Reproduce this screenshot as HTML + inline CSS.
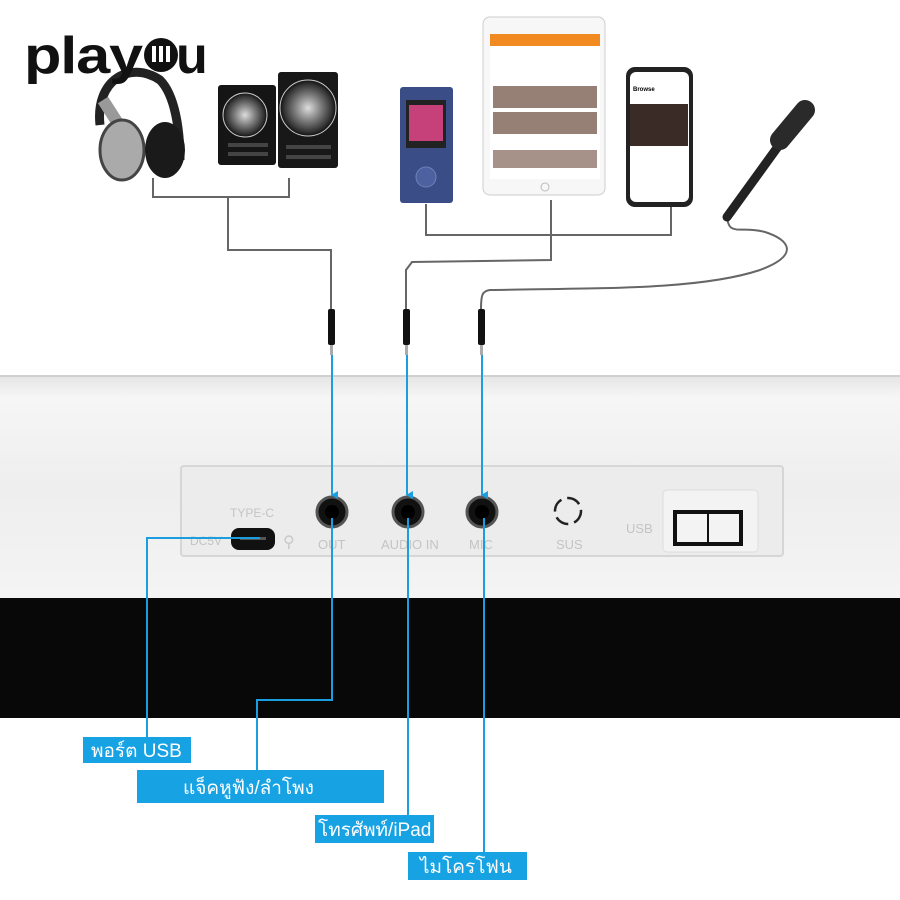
<!DOCTYPE html>
<html><head><meta charset="utf-8"><style>
html,body{margin:0;padding:0;background:#fff}
svg{display:block}
text{font-family:"Liberation Sans",sans-serif}
</style></head><body>
<svg width="900" height="900" viewBox="0 0 900 900" xmlns="http://www.w3.org/2000/svg">
<defs>
<linearGradient id="kb" x1="0" y1="0" x2="0" y2="1">
<stop offset="0" stop-color="#e4e4e4"/><stop offset="0.1" stop-color="#f6f6f6"/><stop offset="0.5" stop-color="#eeeeee"/><stop offset="1" stop-color="#f4f4f4"/>
</linearGradient>
<radialGradient id="cone" cx="0.5" cy="0.5" r="0.5"><stop offset="0" stop-color="#ddd"/><stop offset="0.5" stop-color="#777"/><stop offset="0.85" stop-color="#333"/><stop offset="1" stop-color="#111"/></radialGradient>
<marker id="ar" markerWidth="8" markerHeight="8" refX="4" refY="6" orient="auto" markerUnits="userSpaceOnUse"><path d="M0,0 L8,0 L4,7 z" fill="#1a9ee0"/></marker>
</defs>
<rect width="900" height="900" fill="#fff"/>
<rect x="0" y="375" width="900" height="225" fill="url(#kb)"/>
<line x1="0" y1="376" x2="900" y2="376" fill="none" stroke="#d0d0d0" stroke-width="2"/>
<rect x="0" y="598" width="900" height="120" fill="#080808"/>
<rect x="181" y="466" width="602" height="90" rx="3" fill="#ececec" stroke="#d6d6d6" stroke-width="2"/>
<text x="230" y="517" font-size="12" fill="#c4c4c4">TYPE-C</text>
<text x="190" y="545" font-size="12" fill="#c4c4c4">DC5V</text>
<rect x="231" y="528" width="44" height="22" rx="8" fill="#111"/>
<rect x="240" y="537" width="26" height="3" fill="#555"/>
<text x="283" y="547" font-size="16" fill="#c8c8c8">⚲</text>
<text x="318" y="549" font-size="13" fill="#c4c4c4">OUT</text>
<text x="381" y="549" font-size="13" fill="#c4c4c4">AUDIO IN</text>
<text x="469" y="549" font-size="13" fill="#c4c4c4">MIC</text>
<text x="556" y="549" font-size="13" fill="#c4c4c4">SUS</text>
<text x="626" y="533" font-size="13" fill="#c4c4c4">USB</text>
<g fill="#111" stroke="#555" stroke-width="3">
<circle cx="332" cy="512" r="15"/><circle cx="408" cy="512" r="15"/><circle cx="482" cy="512" r="15"/>
</g>
<g fill="#000"><circle cx="332" cy="512" r="7"/><circle cx="408" cy="512" r="7"/><circle cx="482" cy="512" r="7"/></g>
<circle cx="568" cy="511" r="13" fill="none" stroke="#222" stroke-width="2.5" stroke-dasharray="14 6"/>
<rect x="663" y="490" width="95" height="62" rx="4" fill="#f3f3f3" stroke="#ddd"/>
<rect x="675" y="512" width="66" height="32" fill="none" stroke="#111" stroke-width="4"/>
<line x1="708" y1="512" x2="708" y2="544" stroke="#111" stroke-width="2"/>
<g stroke="#1a9ee0" stroke-width="2" fill="none">
<line x1="332" y1="350" x2="332" y2="495" marker-end="url(#ar)"/>
<line x1="407" y1="350" x2="407" y2="495" marker-end="url(#ar)"/>
<line x1="482" y1="350" x2="482" y2="495" marker-end="url(#ar)"/>
<polyline points="332,518 332,700 257,700 257,775"/>
<polyline points="260,538 147,538 147,738"/>
<line x1="408" y1="518" x2="408" y2="815"/>
<line x1="484" y1="518" x2="484" y2="852"/>
</g>
<g fill="#17a2e4">
<rect x="83" y="737" width="108" height="26"/>
<rect x="137" y="770" width="247" height="33"/>
<rect x="315" y="815" width="119" height="28"/>
<rect x="408" y="852" width="119" height="28"/>
</g>
<g fill="#fff" font-size="19">
<text x="91" y="757" style="font-family:'Liberation Sans','Noto Sans CJK SC','DejaVu Sans',sans-serif">พอร์ต USB</text>
<text x="183" y="794" style="font-family:'Liberation Sans','Noto Sans CJK SC','DejaVu Sans',sans-serif">แจ็คหูฟัง/ลำโพง</text>
<text x="318" y="836" style="font-family:'Liberation Sans','Noto Sans CJK SC','DejaVu Sans',sans-serif">โทรศัพท์/iPad</text>
<text x="420" y="873" style="font-family:'Liberation Sans','Noto Sans CJK SC','DejaVu Sans',sans-serif">ไมโครโฟน</text>
</g>
<g stroke="#666" stroke-width="2" fill="none">
<polyline points="153,178 153,197 289,197 289,178"/>
<polyline points="228,197 228,250 331,250 331,310"/>
<polyline points="426,204 426,235 671,235 671,205"/>
<polyline points="551,200 551,260 412,262 406,270 406,310"/>
<path d="M727,215 C728,238 740,225 765,232 C790,240 800,255 760,270 C700,290 600,288 490,290 C482,291 481,295 481,310"/>
</g>
<g>
<rect x="328" y="309" width="7" height="36" rx="2" fill="#111"/><rect x="330" y="345" width="3" height="10" fill="#aaa"/>
<rect x="403" y="309" width="7" height="36" rx="2" fill="#111"/><rect x="405" y="345" width="3" height="10" fill="#aaa"/>
<rect x="478" y="309" width="7" height="36" rx="2" fill="#111"/><rect x="480" y="345" width="3" height="10" fill="#aaa"/>
</g>
<path d="M100,125 C95,80 130,60 160,80 C175,95 180,130 180,160" fill="none" stroke="#222" stroke-width="9"/>
<path d="M103,100 L135,150" stroke="#999" stroke-width="12"/>
<ellipse cx="122" cy="150" rx="22" ry="30" fill="#aaa" stroke="#444" stroke-width="3"/>
<ellipse cx="165" cy="150" rx="20" ry="28" fill="#1a1a1a"/>
<rect x="218" y="85" width="58" height="80" rx="3" fill="#151515"/>
<circle cx="245" cy="115" r="22" fill="url(#cone)" stroke="#ccc" stroke-width="1"/>
<rect x="228" y="143" width="40" height="4" fill="#444"/><rect x="228" y="152" width="40" height="4" fill="#444"/>
<rect x="278" y="72" width="60" height="96" rx="3" fill="#181818"/>
<circle cx="308" cy="108" r="28" fill="url(#cone)" stroke="#ccc" stroke-width="1"/>
<rect x="286" y="145" width="45" height="4" fill="#444"/><rect x="286" y="155" width="45" height="4" fill="#444"/>
<text x="24" y="73" font-size="52" font-weight="bold" fill="#111" letter-spacing="-1" textLength="118" lengthAdjust="spacingAndGlyphs">play</text>
<circle cx="161" cy="55" r="17" fill="#111"/>
<g fill="#fff"><rect x="152" y="46" width="4" height="16"/><rect x="159" y="46" width="4" height="16"/><rect x="166" y="46" width="4" height="16"/></g>
<text x="176" y="73" font-size="52" font-weight="bold" fill="#111">u</text>
<rect x="400" y="87" width="53" height="116" rx="3" fill="#3a4d86"/>
<rect x="406" y="100" width="40" height="48" fill="#222"/>
<rect x="409" y="105" width="34" height="36" fill="#c6407a"/>
<circle cx="426" cy="177" r="10" fill="#4d60a0" stroke="#6f80bb"/>
<rect x="483" y="17" width="122" height="178" rx="7" fill="#f7f7f7" stroke="#ccc"/>
<rect x="490" y="34" width="110" height="145" fill="#fff"/>
<rect x="490" y="34" width="110" height="12" fill="#f28a22"/>
<g fill="#6a4a3a">
<rect x="493" y="86" width="104" height="22" opacity="0.7"/>
<rect x="493" y="112" width="104" height="22" opacity="0.7"/>
<rect x="493" y="150" width="104" height="18" opacity="0.6"/>
</g>
<circle cx="545" cy="187" r="4" fill="none" stroke="#bbb"/>
<rect x="626" y="67" width="67" height="140" rx="9" fill="#222"/>
<rect x="630" y="72" width="59" height="130" rx="6" fill="#fff"/>
<text x="633" y="91" font-size="6" font-weight="bold">Browse</text>
<rect x="630" y="104" width="58" height="42" fill="#3a2b26"/>
<path d="M727,217 L790,130" stroke="#222" stroke-width="9" stroke-linecap="round"/>
<path d="M780,140 L805,110" stroke="#2a2a2a" stroke-width="20" stroke-linecap="round"/>
</svg>
</body></html>
